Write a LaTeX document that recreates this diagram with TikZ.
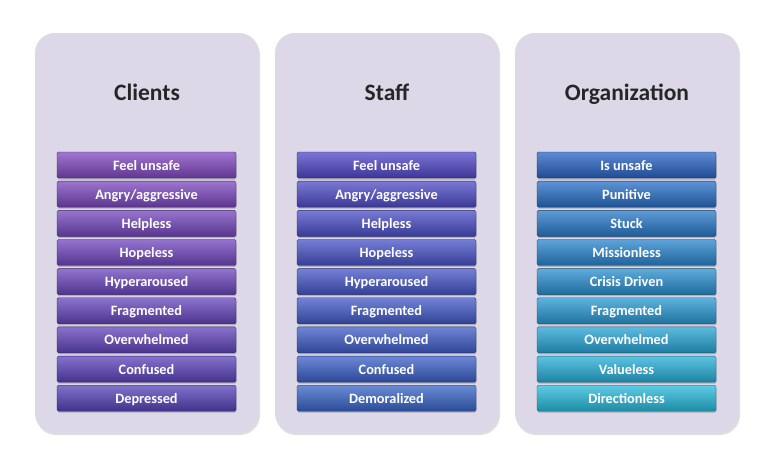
\documentclass[tikz,border=0pt]{standalone}
\usepackage{fontspec}
\setmainfont{Carlito}
\usetikzlibrary{shadows}
\definecolor{panelfill}{RGB}{221,216,232}
\definecolor{cTop}{RGB}{128,72,192}
\definecolor{cBot}{RGB}{86,66,186}
\definecolor{sTop}{RGB}{82,72,200}
\definecolor{sBot}{RGB}{56,100,200}
\definecolor{oTop}{RGB}{40,100,196}
\definecolor{oBot}{RGB}{40,186,220}
\tikzset{
  panel/.style={rectangle, rounded corners=20pt, fill=panelfill, minimum width=224pt, minimum height=400pt, inner sep=0pt,
    drop shadow={shadow xshift=1pt, shadow yshift=-2pt, opacity=0.25, fill=gray}},
  heading/.style={font=\bfseries\fontsize{23.5}{26}\selectfont, text=black!85, anchor=base},
  bar/.style={rectangle, rounded corners=1.5pt, minimum width=179pt, minimum height=26pt, inner sep=0pt,
    text height=11pt, text depth=1pt,
    top color=#1!75!white, middle color=#1, bottom color=#1!75!black, draw=#1!55!black, line width=0.4pt,
    text=white, font=\bfseries\fontsize{14.3}{16}\selectfont,
    drop shadow={shadow xshift=0.5pt, shadow yshift=-1.5pt, opacity=0.35, fill=black!60}},
}
\begin{document}
\begin{tikzpicture}[x=1pt,y=-1pt]
\useasboundingbox (0,0) rectangle (768,458);
\fill[white] (0,0) rectangle (768,458);
\node[panel] (pc) at (147,233) {};
\node[panel] (ps) at (387,233) {};
\node[panel] (po) at (627,233) {};
\node[heading] (hc) at (147,100) {Clients};
\node[heading] (hs) at (387,100) {Staff};
\node[heading] (ho) at (627,100) {Organization};
\foreach \t [count=\i from 0] in {Feel unsafe,Angry/aggressive,Helpless,Hopeless,Hyperaroused,Fragmented,Overwhelmed,Confused,Depressed}{
  \pgfmathsetmacro\p{100-\i*12.5}
  \colorlet{rowc}{cTop!\p!cBot}
  \node[bar=rowc] (c\i) at (146.5,{165+\i*29.15}) {\t};
}
\foreach \t [count=\i from 0] in {Feel unsafe,Angry/aggressive,Helpless,Hopeless,Hyperaroused,Fragmented,Overwhelmed,Confused,Demoralized}{
  \pgfmathsetmacro\p{100-\i*12.5}
  \colorlet{rows}{sTop!\p!sBot}
  \node[bar=rows] (s\i) at (386.5,{165+\i*29.15}) {\t};
}
\foreach \t [count=\i from 0] in {Is unsafe,Punitive,Stuck,Missionless,Crisis Driven,Fragmented,Overwhelmed,Valueless,Directionless}{
  \pgfmathsetmacro\p{100-\i*12.5}
  \colorlet{rowo}{oTop!\p!oBot}
  \node[bar=rowo] (o\i) at (626.5,{165+\i*29.15}) {\t};
}
\end{tikzpicture}
\end{document}
